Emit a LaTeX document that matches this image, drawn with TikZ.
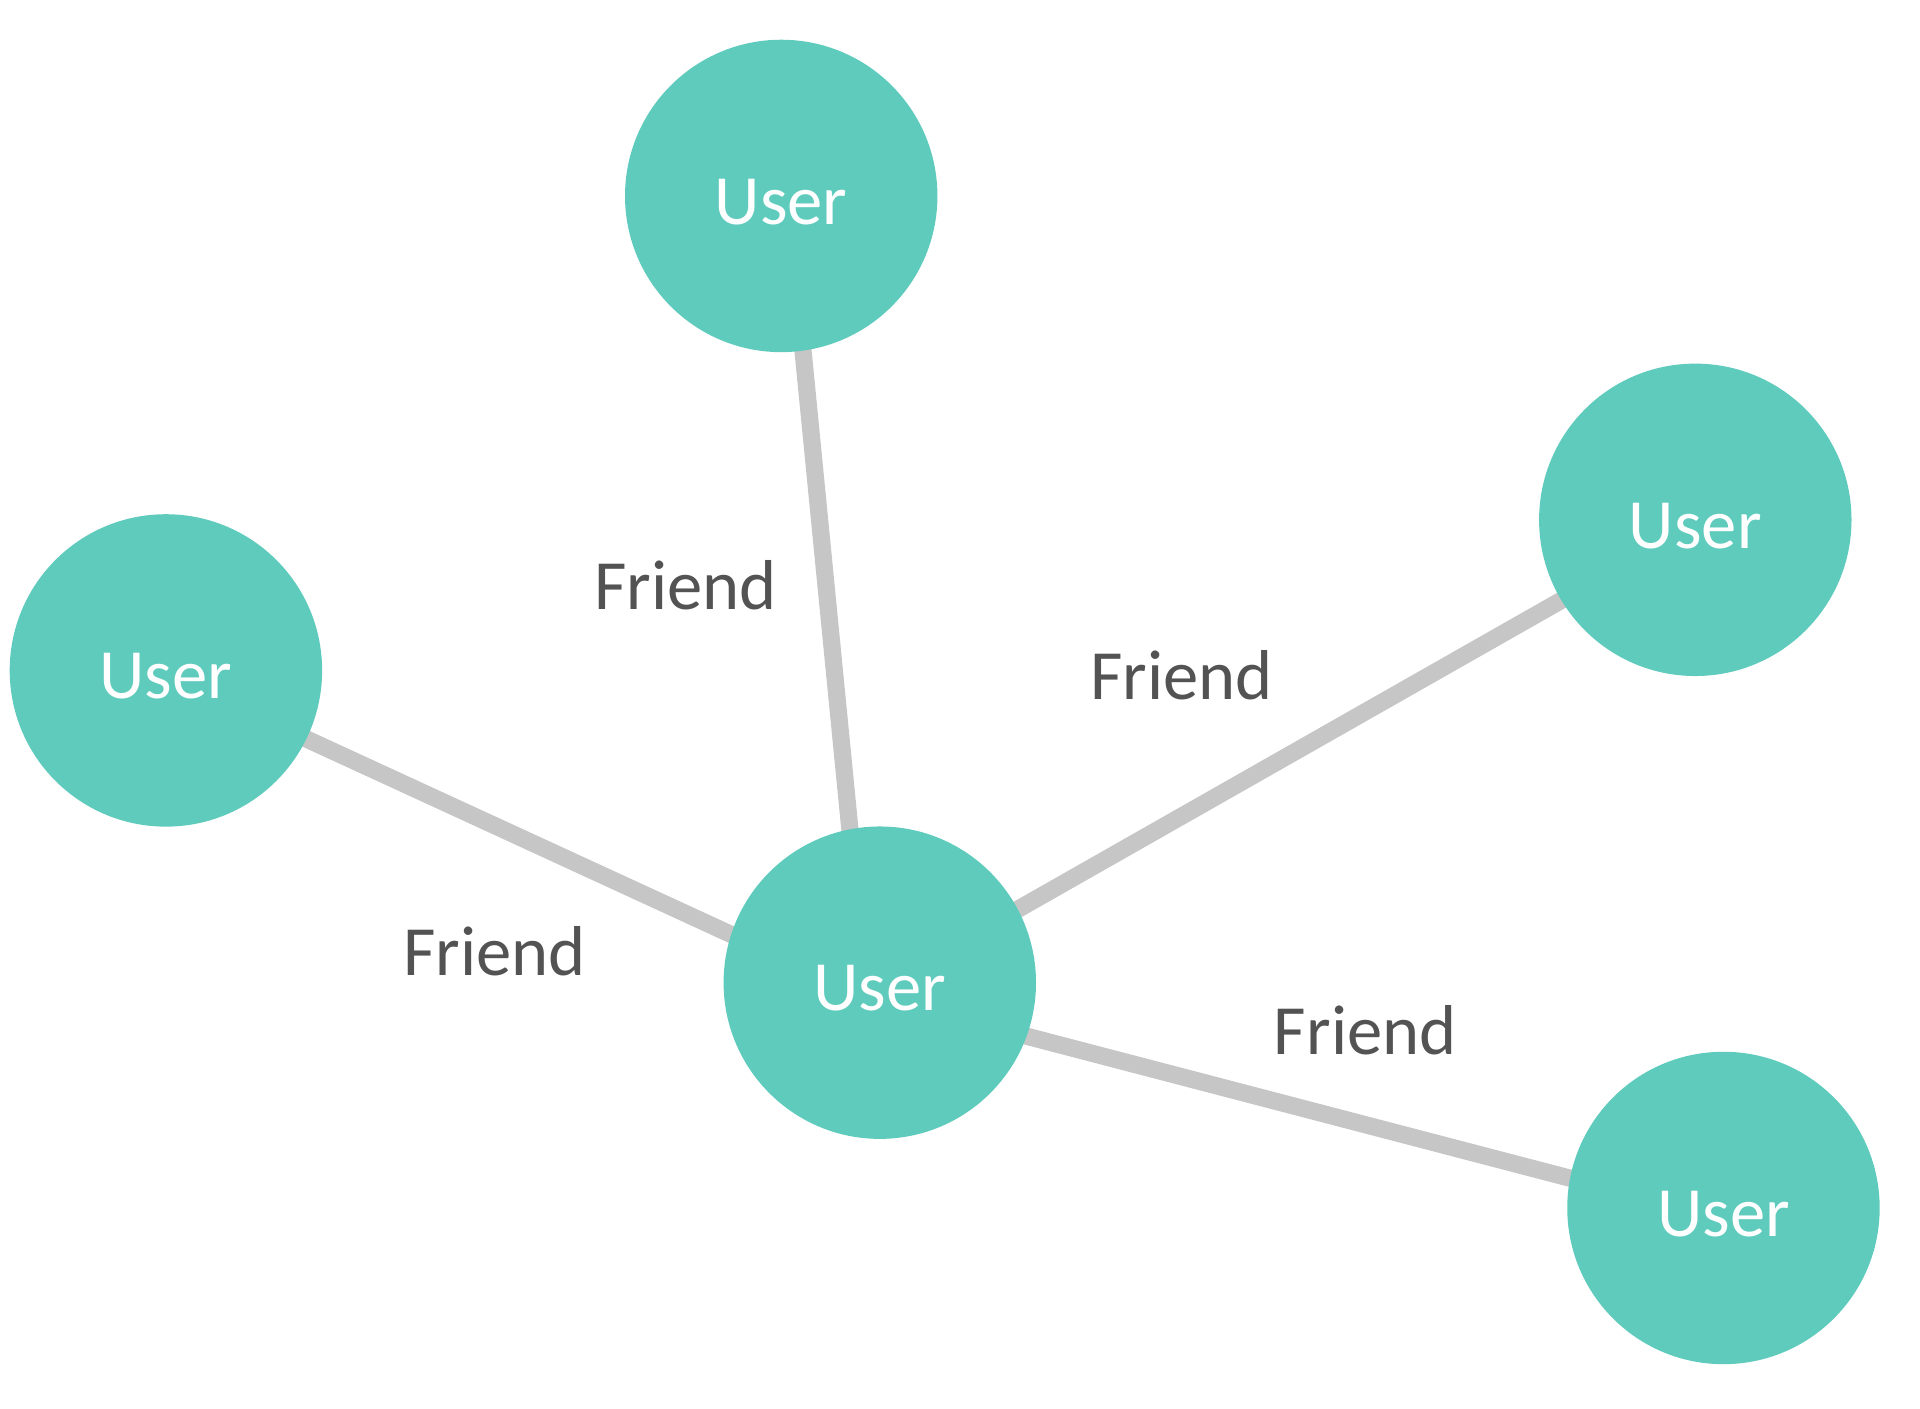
\documentclass[tikz,border=0pt]{standalone}
\usepackage{fontspec}
\setmainfont{Carlito}
\usetikzlibrary{backgrounds}
\definecolor{usercol}{HTML}{5ECBBD}
\definecolor{edgecol}{HTML}{C6C6C6}
\definecolor{labcol}{HTML}{535353}
\begin{document}
\begin{tikzpicture}[x=0.01cm,y=-0.01cm,
  user/.style={circle,fill=usercol,draw=none,minimum size=2.55cm,inner sep=0pt,
    text=white,font=\fontsize{16.4}{18}\selectfont,text height=13.1pt,text depth=0pt},
  edge/.style={draw=edgecol,line width=4pt,shorten <=-6pt,shorten >=-6pt},
  rel/.style={anchor=base,text=labcol,font=\fontsize{16.4}{18}\selectfont,inner sep=0pt}]
\useasboundingbox (0,0) rectangle (1568,1150);
\node[user] (c) at (718.5,802.5) {User};
\node[user] (t) at (638,160) {User};
\node[user] (r) at (1384.5,424.5) {User};
\node[user] (l) at (135.5,547.5) {User};
\node[user] (b) at (1407.5,986.5) {User};
\begin{scope}[on background layer]
\draw[edge] (t.-82.4) -- (c.101);
\draw[edge] (r.211.1) -- (c.28.3);
\draw[edge] (l.-26.3) -- (c.162.7);
\draw[edge] (b.169) -- (c.-20.8);
\end{scope}
\node[rel] (f1) at (560,498) {Friend};
\node[rel] (f2) at (965,571) {Friend};
\node[rel] (f3) at (404,797) {Friend};
\node[rel] (f4) at (1115,861) {Friend};
\end{tikzpicture}
\end{document}
